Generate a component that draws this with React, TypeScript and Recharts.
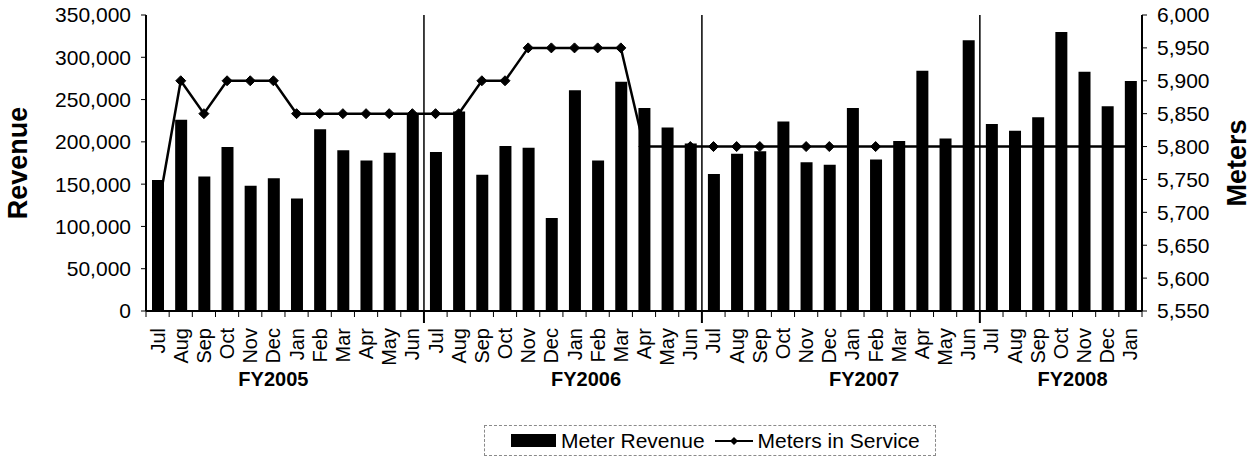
import React from 'react';
import { ComposedChart, Bar, Line, XAxis, YAxis, ReferenceLine, Legend } from 'recharts';

const FONT = '"Liberation Sans", Arial, Helvetica, sans-serif';

// ---- data ----
const monthLabels = [
  'Jul', 'Aug', 'Sep', 'Oct', 'Nov', 'Dec', 'Jan', 'Feb', 'Mar', 'Apr', 'May', 'Jun',
  'Jul', 'Aug', 'Sep', 'Oct', 'Nov', 'Dec', 'Jan', 'Feb', 'Mar', 'Apr', 'May', 'Jun',
  'Jul', 'Aug', 'Sep', 'Oct', 'Nov', 'Dec', 'Jan', 'Feb', 'Mar', 'Apr', 'May', 'Jun',
  'Jul', 'Aug', 'Sep', 'Oct', 'Nov', 'Dec', 'Jan',
];

const meterRevenue = [
  155000, 226000, 159000, 194000, 148000, 157000, 133000, 215000, 190000, 178000, 187000, 234000,
  188000, 236000, 161000, 195000, 193000, 110000, 261000, 178000, 271000, 240000, 217000, 198000,
  162000, 186000, 189000, 224000, 176000, 173000, 240000, 179000, 201000, 284000, 204000, 320000,
  221000, 213000, 229000, 330000, 283000, 242000, 272000,
];

const metersInService = [
  5700, 5900, 5850, 5900, 5900, 5900, 5850, 5850, 5850, 5850, 5850, 5850,
  5850, 5850, 5900, 5900, 5950, 5950, 5950, 5950, 5950, 5800, 5800, 5800,
  5800, 5800, 5800, 5800, 5800, 5800, 5800, 5800, 5800, 5800, 5800, 5800,
  5800, 5800, 5800, 5800, 5800, 5800, 5800,
];

const revenueTicks = [0, 50000, 100000, 150000, 200000, 250000, 300000, 350000];
const meterTicks = [5550, 5600, 5650, 5700, 5750, 5800, 5850, 5900, 5950, 6000];

// fiscal-year group labels: label spans the categories from..to (indices)
const fyLabels = [
  { text: 'FY2005', from: 5, to: 5 },
  { text: 'FY2006', from: 18, to: 19 },
  { text: 'FY2007', from: 30, to: 31 },
  { text: 'FY2008', from: 39, to: 40 },
];
// indices where a new fiscal year begins (separator lines)
const fyStarts = [12, 24, 36];

const categoryKeys = monthLabels.map((m, i) => `${m}#${i}`);
const data = categoryKeys.map((key, i) => ({
  key,
  revenue: meterRevenue[i],
  meters: metersInService[i],
}));

// ---- layout ----
const CHART_W = 1254;
const CHART_H = 460;
const LEFT_W = 146;
const RIGHT_W = 112;
const PLOT_W = CHART_W - LEFT_W - RIGHT_W;
const BAND = PLOT_W / categoryKeys.length;

const fmt = (v: number) => v.toLocaleString('en-US');

const MonthTick = (props: any) => {
  const { x, y, index, payload } = props;
  const label = String(payload.value).split('#')[0];
  const left = x - BAND / 2;
  const isStart = fyStarts.includes(index);
  const isLast = index === categoryKeys.length - 1;
  return (
    <g>
      <line x1={left} y1={y} x2={left} y2={y + (isStart ? 12 : 6)} stroke="#000" strokeWidth={isStart ? 2 : 1} />
      {isLast && <line x1={x + BAND / 2} y1={y} x2={x + BAND / 2} y2={y + 6} stroke="#000" strokeWidth={1} />}
      <text
        transform={`translate(${x},${y + 17}) rotate(-90)`}
        textAnchor="end"
        dy="0.35em"
        fontSize={20}
        fontFamily={FONT}
        fill="#000"
      >
        {label}
      </text>
    </g>
  );
};

const FyTick = (props: any) => {
  const { x, y, index } = props;
  const item = fyLabels.find((f) => f.from === index);
  if (!item) return <g />;
  const cx = x + ((item.to - item.from) * BAND) / 2;
  return (
    <text x={cx} y={y + 12} textAnchor="middle" dy="0.35em" fontSize={20} fontWeight="bold" fontFamily={FONT} fill="#000">
      {item.text}
    </text>
  );
};

const AxisTitle = (props: any) => {
  const { viewBox, text, offsetX } = props;
  if (!viewBox) return null;
  const cx = viewBox.x + offsetX;
  const cy = viewBox.y + viewBox.height / 2;
  return (
    <text
      transform={`translate(${cx},${cy}) rotate(-90)`}
      textAnchor="middle"
      dy="0.35em"
      fontSize={27}
      fontWeight="bold"
      fontFamily={FONT}
      fill="#000"
    >
      {text}
    </text>
  );
};

const Diamond = (props: any) => {
  const { cx, cy } = props;
  if (cx == null || cy == null) return <g />;
  const r = 5;
  return <polygon points={`${cx},${cy - r} ${cx + r},${cy} ${cx},${cy + r} ${cx - r},${cy}`} fill="#000" stroke="#000" />;
};

const LegendBox = () => (
  <div
    style={{
      height: 31,
      boxSizing: 'border-box',
      border: '1px dashed #8a8a8a',
      display: 'flex',
      alignItems: 'center',
      paddingLeft: 26,
      fontFamily: FONT,
      fontSize: 21,
      color: '#000',
      whiteSpace: 'nowrap',
    }}
  >
    <span style={{ display: 'inline-block', width: 45, height: 13, background: '#000', marginRight: 5 }} />
    <span>Meter Revenue</span>
    <svg width={38} height={14} style={{ marginLeft: 10, marginRight: 5 }}>
      <line x1={0} y1={7} x2={38} y2={7} stroke="#000" strokeWidth={2} />
      <polygon points="19,3 23,7 19,11 15,7" fill="#000" />
    </svg>
    <span>Meters in Service</span>
  </div>
);

export default function App() {
  return (
    <div style={{ position: 'absolute', left: 0, top: 0, width: CHART_W, height: CHART_H, background: '#fff' }}>
      <ComposedChart
        width={CHART_W}
        height={CHART_H}
        data={data}
        margin={{ top: 15, right: 0, bottom: 4, left: 0 }}
        style={{ fontFamily: FONT }}
      >
        <XAxis
          dataKey="key"
          xAxisId={0}
          interval={0}
          height={56}
          tickSize={0}
          tickMargin={0}
          tickLine={false}
          tick={<MonthTick />}
          axisLine={{ stroke: '#000', strokeWidth: 2 }}
        />
        <XAxis
          dataKey="key"
          xAxisId="fy"
          interval={0}
          height={58}
          tickSize={0}
          tickMargin={0}
          tickLine={false}
          tick={<FyTick />}
          axisLine={false}
        />
        <XAxis
          dataKey="key"
          xAxisId="top"
          orientation="top"
          height={0}
          tick={false}
          tickLine={false}
          axisLine={{ stroke: '#000', strokeWidth: 2 }}
        />
        <YAxis
          yAxisId="left"
          width={LEFT_W}
          domain={[0, 350000]}
          ticks={revenueTicks}
          interval={0}
          tickFormatter={fmt}
          tick={{ fill: '#000', fontSize: 21, fontFamily: FONT }}
          tickSize={5}
          tickMargin={10}
          tickLine={{ stroke: '#000' }}
          axisLine={{ stroke: '#000', strokeWidth: 2 }}
          label={<AxisTitle text="Revenue" offsetX={18} />}
        />
        <YAxis
          yAxisId="right"
          orientation="right"
          width={RIGHT_W}
          domain={[5550, 6000]}
          ticks={meterTicks}
          interval={0}
          tickFormatter={fmt}
          tick={{ fill: '#000', fontSize: 21, fontFamily: FONT }}
          tickSize={5}
          tickMargin={10}
          tickLine={{ stroke: '#000' }}
          axisLine={{ stroke: '#000', strokeWidth: 2 }}
          label={<AxisTitle text="Meters" offsetX={95} />}
        />
        {fyStarts.map((idx) => (
          <ReferenceLine
            key={idx}
            x={categoryKeys[idx]}
            xAxisId={0}
            yAxisId="left"
            position="start"
            stroke="#000"
            strokeWidth={1.5}
          />
        ))}
        <Line
          type="linear"
          dataKey="meters"
          name="Meters in Service"
          yAxisId="right"
          xAxisId={0}
          stroke="#000"
          strokeWidth={2.5}
          dot={<Diamond />}
          activeDot={false}
          isAnimationActive={false}
          zIndex={250}
        />
        <Bar
          dataKey="revenue"
          name="Meter Revenue"
          yAxisId="left"
          xAxisId={0}
          fill="#000"
          barSize={12}
          isAnimationActive={false}
        />
        <Legend
          verticalAlign="bottom"
          content={<LegendBox />}
          wrapperStyle={{ left: 484, width: 452, bottom: 4 }}
        />
      </ComposedChart>
    </div>
  );
}
